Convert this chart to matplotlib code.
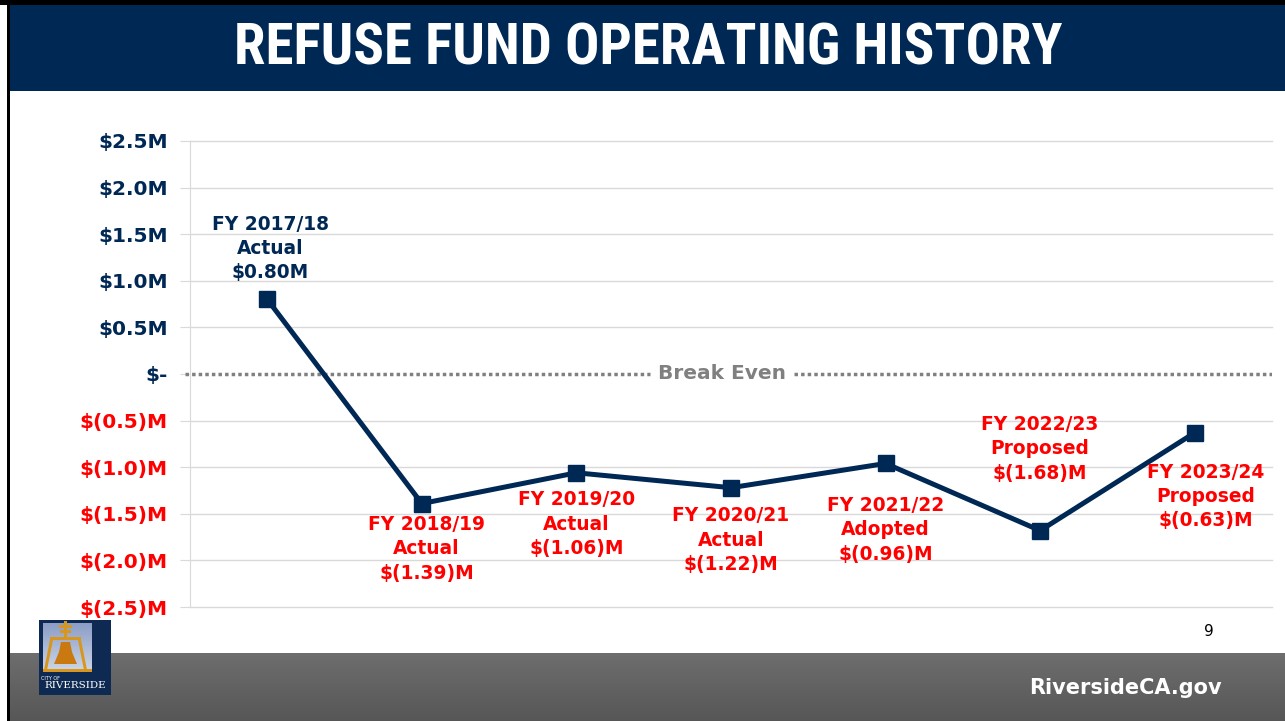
import matplotlib
matplotlib.use("Agg")
import matplotlib.pyplot as plt
import numpy as np
from matplotlib.patches import Rectangle, Polygon
from matplotlib import font_manager

# ---- data ----
categories = ["FY 2017/18", "FY 2018/19", "FY 2019/20", "FY 2020/21",
              "FY 2021/22", "FY 2022/23", "FY 2023/24"]
statuses = ["Actual", "Actual", "Actual", "Actual", "Adopted", "Proposed", "Proposed"]
values = [0.80, -1.39, -1.06, -1.22, -0.96, -1.68, -0.63]
value_labels = ["$0.80M", "$(1.39)M", "$(1.06)M", "$(1.22)M", "$(0.96)M", "$(1.68)M", "$(0.63)M"]
ytick_vals = [2.5, 2.0, 1.5, 1.0, 0.5, 0.0, -0.5, -1.0, -1.5, -2.0, -2.5]
ytick_labels = ["$2.5M", "$2.0M", "$1.5M", "$1.0M", "$0.5M", "$-",
                "$(0.5)M", "$(1.0)M", "$(1.5)M", "$(2.0)M", "$(2.5)M"]

NAVY = "#002855"
RED = "#FF0000"
W, H = 1285, 721

names = {f.name for f in font_manager.fontManager.ttflist}
cond = [n for n in ["Liberation Sans Narrow", "DejaVu Sans Condensed", "Roboto Condensed",
                    "Open Sans Condensed"] if n in names]
title_family = cond + ["DejaVu Sans"]

fig = plt.figure(figsize=(W / 100, H / 100), dpi=100)
fig.patch.set_facecolor("white")

def fx(x):
    return x / W

def fy(y):
    return 1 - y / H

bg = fig.add_axes([0, 0, 1, 1])
bg.axis("off")
bg.set_zorder(0)

# footer gradient
grad = np.linspace(0.43, 0.34, 50).reshape(-1, 1)
bg.imshow(np.dstack([grad, grad, grad]), extent=(9, W, H, 653), aspect="auto",
          zorder=0.5)
# logo inner panel gradient
logo_grad = np.linspace(0.0, 1.0, 30).reshape(-1, 1)
lg = np.dstack([0.55 + 0.25 * logo_grad, 0.62 + 0.22 * logo_grad, 0.78 + 0.12 * logo_grad])
bg.imshow(lg, extent=(43, 92, 672, 623), aspect="auto", zorder=3.5)
bg.set_xlim(0, W)
bg.set_ylim(H, 0)

# header
bg.add_patch(Rectangle((0, 0), W, 5, color="black", lw=0))
bg.add_patch(Rectangle((9, 5), W - 9, 86, color=NAVY, lw=0))
if cond:
    bg.text(648, 49, "REFUSE FUND OPERATING HISTORY", color="white",
            fontsize=41, fontweight="bold", ha="center", va="center", family=title_family)
else:
    bg.text(648, 48, "REFUSE FUND OPERATING HISTORY", color="white",
            fontsize=31, fontweight="bold", ha="center", va="center", family=title_family)
# left black border
bg.add_patch(Rectangle((7, 0), 3, H, color="black", lw=0, zorder=2))
bg.text(1125, 688, "RiversideCA.gov", color="white", fontsize=15,
        fontweight="bold", ha="center", va="center", family="DejaVu Sans")
bg.text(1209, 632, "9", color="black", fontsize=11, ha="center", va="center")

# logo
bg.add_patch(Rectangle((39, 620), 72, 75, color="#0f2a52", lw=0, zorder=3))
GOLD = "#d9961c"
bg.add_patch(Rectangle((64, 621), 3, 16, color=GOLD, lw=0, zorder=4))
bg.add_patch(Rectangle((59, 625), 13, 2.5, color=GOLD, lw=0, zorder=4))
bg.add_patch(Rectangle((60, 630), 11, 2.5, color=GOLD, lw=0, zorder=4))
bg.add_patch(Rectangle((50, 637), 31, 3, color=GOLD, lw=0, zorder=4))
bg.add_patch(Polygon([(50, 640), (53, 640), (47, 670), (44, 670)], color=GOLD, lw=0, zorder=4))
bg.add_patch(Polygon([(78, 640), (81, 640), (87, 670), (84, 670)], color=GOLD, lw=0, zorder=4))
bg.add_patch(Rectangle((43, 669), 49, 3, color=GOLD, lw=0, zorder=4))
bg.add_patch(Polygon([(61, 642), (70, 642), (72, 652), (77, 664), (54, 664), (59, 652)],
                     color="#c9790f", lw=0, zorder=4))
bg.text(41, 678, "CITY OF", color="white", fontsize=3.5, ha="left", va="center", zorder=5)
bg.text(75, 686, "RIVERSIDE", color="white", fontsize=7.5, ha="center", va="center",
        family="DejaVu Serif", zorder=5)

# ---- chart axes ----
L, R, T, B = 190, 1272, 141, 607
ax = fig.add_axes([fx(L), fy(B), fx(R - L), (B - T) / H])
ax.set_zorder(2)
ax.patch.set_alpha(0)
x = np.arange(len(categories))
ax.set_xlim(-0.5, len(categories) - 0.5)
ax.set_ylim(-2.5, 2.5)
ax.set_yticks(ytick_vals)
ax.set_yticklabels(ytick_labels)
for lab, v in zip(ax.get_yticklabels(), ytick_vals):
    lab.set_color(NAVY if v >= 0 else RED)
    lab.set_fontweight("bold")
    lab.set_fontsize(14.5)
ax.tick_params(axis="y", length=7, color="#d9d9d9", pad=9)
ax.set_xticks([])
ax.yaxis.grid(True, color="#d9d9d9", lw=1.0)
for gl, v in zip(ax.get_ygridlines(), ytick_vals):
    gl.set_clip_on(False)
    if v == 0:
        gl.set_visible(False)
ax.set_axisbelow(True)
for s in ["top", "right", "bottom"]:
    ax.spines[s].set_visible(False)
ax.spines["left"].set_color("#d9d9d9")

# break even dotted line
ax.plot([-0.53, 2.475], [0, 0], color="#808080", lw=2.5, ls=(0, (1, 0.9)), zorder=1,
        clip_on=False)
ax.plot([3.41, 6.5], [0, 0], color="#808080", lw=2.5, ls=(0, (1, 0.9)), zorder=1)
ax.text(2.94, 0, "Break Even", color="#808080", fontsize=14.5, fontweight="bold",
        ha="center", va="center")

ax.plot(x, values, color=NAVY, lw=3.6, marker="s", markersize=11.5, zorder=3,
        solid_joinstyle="miter")

label_pos = [
    (0.02, 1.71),
    (0.03, -1.51),
    (0.0, -1.25),
    (0.0, -1.42),
    (0.0, -1.31),
    (0.0, -0.44),
    (0.07, -0.95),
]
for i, (dx, yy) in enumerate(label_pos):
    c = NAVY if values[i] >= 0 else RED
    ax.text(x[i] + dx, yy, f"{categories[i]}\n{statuses[i]}\n{value_labels[i]}",
            color=c, fontsize=13.4, fontweight="bold", ha="center", va="top",
            linespacing=1.36, zorder=4)

fig.savefig("out.png", dpi=100)
